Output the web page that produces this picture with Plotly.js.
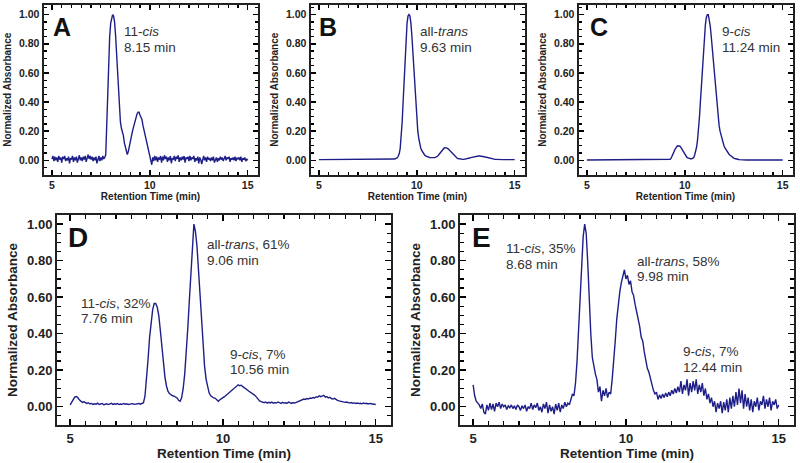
<!DOCTYPE html>
<html>
<head>
<meta charset="utf-8">
<script src="https://cdn.plot.ly/plotly-3.0.1.min.js"></script>
</head>
<body style="margin:0">
<div id="chart"></div>
<script>
// Retention time grid (min), shared by all chromatograms
const time = [
5.00,5.05,5.10,5.15,5.20,5.25,5.30,5.35,5.40,5.45,
5.50,5.55,5.60,5.65,5.70,5.75,5.80,5.85,5.90,5.95,
6.00,6.05,6.10,6.15,6.20,6.25,6.30,6.35,6.40,6.45,
6.50,6.55,6.60,6.65,6.70,6.75,6.80,6.85,6.90,6.95,
7.00,7.05,7.10,7.15,7.20,7.25,7.30,7.35,7.40,7.45,
7.50,7.55,7.60,7.65,7.70,7.75,7.80,7.85,7.90,7.95,
8.00,8.05,8.10,8.15,8.20,8.25,8.30,8.35,8.40,8.45,
8.50,8.55,8.60,8.65,8.70,8.75,8.80,8.85,8.90,8.95,
9.00,9.05,9.10,9.15,9.20,9.25,9.30,9.35,9.40,9.45,
9.50,9.55,9.60,9.65,9.70,9.75,9.80,9.85,9.90,9.95,
10.00,10.05,10.10,10.15,10.20,10.25,10.30,10.35,10.40,10.45,
10.50,10.55,10.60,10.65,10.70,10.75,10.80,10.85,10.90,10.95,
11.00,11.05,11.10,11.15,11.20,11.25,11.30,11.35,11.40,11.45,
11.50,11.55,11.60,11.65,11.70,11.75,11.80,11.85,11.90,11.95,
12.00,12.05,12.10,12.15,12.20,12.25,12.30,12.35,12.40,12.45,
12.50,12.55,12.60,12.65,12.70,12.75,12.80,12.85,12.90,12.95,
13.00,13.05,13.10,13.15,13.20,13.25,13.30,13.35,13.40,13.45,
13.50,13.55,13.60,13.65,13.70,13.75,13.80,13.85,13.90,13.95,
14.00,14.05,14.10,14.15,14.20,14.25,14.30,14.35,14.40,14.45,
14.50,14.55,14.60,14.65,14.70,14.75,14.80,14.85,14.90,14.95,
15.00];

// Panel A: 11-cis standard
const absA = [
0.010,0.030,-0.005,0.025,0.000,0.020,-0.010,0.030,0.005,0.020,
-0.015,0.025,0.010,0.030,-0.005,0.015,0.000,0.025,-0.020,0.015,
0.005,0.030,-0.010,0.020,0.000,0.025,-0.015,0.020,0.035,0.000,
0.020,-0.005,0.025,0.005,0.030,-0.010,0.015,0.040,0.010,0.030,
0.005,0.025,-0.005,0.020,0.000,0.025,-0.020,0.015,0.030,-0.005,
0.020,0.000,0.030,0.010,0.020,0.040,0.250,0.500,0.700,0.850,
0.940,0.980,1.000,0.990,0.950,0.860,0.720,0.580,0.450,0.340,
0.260,0.220,0.200,0.170,0.120,0.090,0.060,0.040,0.060,0.100,
0.130,0.160,0.190,0.220,0.250,0.280,0.300,0.320,0.330,0.330,
0.310,0.290,0.280,0.240,0.210,0.180,0.140,0.110,0.080,0.050,
0.030,0.010,-0.030,0.020,-0.005,0.030,0.000,0.025,-0.010,0.020,
0.005,0.030,-0.015,0.025,0.000,0.035,0.010,0.025,-0.010,0.020,
0.000,0.030,-0.020,0.015,0.005,0.030,-0.005,0.025,0.010,0.035,
-0.010,0.020,0.000,0.025,0.005,0.030,-0.015,0.020,0.010,0.025,
-0.005,0.030,0.000,0.020,0.010,0.030,-0.010,0.015,0.000,0.025,
-0.020,0.020,0.005,-0.025,0.015,0.030,0.000,0.020,-0.010,0.025,
0.005,0.015,-0.005,0.020,0.000,0.025,-0.015,0.010,0.020,-0.010,
0.015,0.000,0.025,0.005,0.020,-0.005,0.015,0.030,0.000,0.020,
0.010,0.025,-0.010,0.015,0.005,0.020,0.000,0.025,-0.005,0.015,
0.010,0.020,0.000,0.025,-0.010,0.015,0.005,0.020,-0.005,0.010,
0.000];

// Panel B: all-trans standard
const absB = [
0.005,0.005,0.005,0.005,0.005,0.005,0.005,0.005,0.005,0.005,
0.005,0.005,0.005,0.004,0.004,0.004,0.004,0.004,0.004,0.004,
0.004,0.004,0.004,0.004,0.004,0.004,0.004,0.004,0.004,0.004,
0.004,0.004,0.004,0.004,0.004,0.004,0.004,0.004,0.004,0.004,
0.004,0.004,0.004,0.004,0.004,0.004,0.004,0.004,0.004,0.004,
0.004,0.004,0.004,0.004,0.004,0.004,0.004,0.004,0.004,0.004,
0.004,0.004,0.004,0.004,0.004,0.004,0.005,0.005,0.005,0.005,
0.005,0.005,0.005,0.006,0.006,0.007,0.008,0.009,0.011,0.014,
0.018,0.028,0.045,0.080,0.150,0.260,0.400,0.560,0.720,0.850,
0.940,0.990,1.000,0.990,0.940,0.850,0.730,0.600,0.470,0.360,
0.270,0.200,0.150,0.110,0.085,0.068,0.055,0.045,0.037,0.031,
0.027,0.024,0.022,0.020,0.019,0.018,0.018,0.018,0.019,0.020,
0.023,0.028,0.035,0.044,0.054,0.064,0.073,0.080,0.085,0.087,
0.087,0.084,0.079,0.072,0.064,0.055,0.046,0.038,0.031,0.025,
0.020,0.016,0.013,0.011,0.009,0.008,0.007,0.007,0.007,0.008,
0.009,0.010,0.012,0.014,0.016,0.019,0.021,0.023,0.025,0.027,
0.028,0.029,0.030,0.030,0.030,0.030,0.029,0.028,0.027,0.025,
0.023,0.021,0.019,0.017,0.015,0.013,0.011,0.010,0.009,0.008,
0.007,0.007,0.006,0.006,0.006,0.006,0.005,0.005,0.005,0.005,
0.005,0.005,0.005,0.005,0.005,0.005,0.005,0.005,0.005,0.005,
0.005];

// Panel C: 9-cis standard
const absC = [
0.003,0.003,0.003,0.003,0.003,0.003,0.003,0.003,0.003,0.003,
0.003,0.003,0.003,0.003,0.003,0.003,0.003,0.003,0.003,0.003,
0.003,0.003,0.003,0.003,0.003,0.003,0.003,0.003,0.003,0.003,
0.003,0.003,0.003,0.003,0.003,0.003,0.003,0.003,0.003,0.003,
0.003,0.003,0.003,0.003,0.003,0.003,0.003,0.003,0.003,0.003,
0.004,0.005,0.006,0.007,0.008,0.008,0.007,0.006,0.005,0.004,
0.004,0.003,0.003,0.003,0.003,0.003,0.003,0.003,0.003,0.003,
0.003,0.003,0.003,0.003,0.003,0.003,0.003,0.003,0.003,0.003,
0.003,0.003,0.003,0.004,0.005,0.008,0.015,0.027,0.042,0.060,
0.076,0.088,0.096,0.100,0.101,0.097,0.089,0.077,0.063,0.049,
0.038,0.029,0.022,0.017,0.014,0.012,0.011,0.011,0.013,0.018,
0.035,0.058,0.090,0.140,0.210,0.300,0.410,0.530,0.650,0.760,
0.860,0.930,0.980,1.000,1.000,0.970,0.920,0.850,0.770,0.690,
0.600,0.510,0.430,0.350,0.290,0.240,0.200,0.170,0.145,0.120,
0.100,0.085,0.072,0.061,0.052,0.044,0.037,0.030,0.025,0.020,
0.016,0.013,0.010,0.008,0.007,0.006,0.005,0.004,0.004,0.004,
0.003,0.003,0.003,0.003,0.003,0.003,0.003,0.003,0.003,0.003,
0.003,0.003,0.003,0.003,0.003,0.003,0.003,0.003,0.003,0.003,
0.003,0.003,0.003,0.003,0.003,0.003,0.003,0.003,0.003,0.003,
0.003,0.003,0.003,0.003,0.003,0.003,0.003,0.003,0.003,0.003,
0.003];

// Panel D: isomer mixture
const absD = [
0.010,0.025,0.042,0.053,0.056,0.050,0.038,0.030,0.024,0.027,
0.020,0.018,0.022,0.015,0.018,0.013,0.016,0.014,0.020,0.012,
0.015,0.018,0.011,0.014,0.016,0.012,0.015,0.019,0.013,0.016,
0.014,0.017,0.012,0.015,0.013,0.018,0.014,0.016,0.012,0.015,
0.014,0.017,0.013,0.016,0.015,0.018,0.014,0.017,0.022,0.060,
0.150,0.260,0.380,0.470,0.530,0.565,0.565,0.545,0.500,0.420,
0.330,0.240,0.165,0.115,0.085,0.072,0.065,0.060,0.058,0.052,
0.048,0.035,0.030,0.050,0.100,0.180,0.290,0.430,0.580,0.740,
0.880,1.000,0.960,0.880,0.750,0.600,0.450,0.320,0.220,0.150,
0.105,0.075,0.060,0.052,0.048,0.046,0.040,0.030,0.038,0.042,
0.050,0.055,0.062,0.070,0.075,0.082,0.088,0.095,0.105,0.110,
0.120,0.115,0.118,0.110,0.105,0.098,0.092,0.085,0.078,0.070,
0.068,0.062,0.050,0.040,0.032,0.028,0.025,0.022,0.026,0.020,
0.024,0.021,0.025,0.019,0.023,0.020,0.026,0.021,0.018,0.024,
0.020,0.022,0.019,0.025,0.021,0.018,0.023,0.020,0.024,0.027,
0.030,0.035,0.038,0.042,0.040,0.045,0.042,0.048,0.046,0.050,
0.048,0.055,0.052,0.060,0.055,0.058,0.062,0.052,0.056,0.048,
0.052,0.045,0.042,0.046,0.038,0.035,0.032,0.030,0.026,0.028,
0.024,0.026,0.022,0.020,0.023,0.019,0.021,0.018,0.020,0.017,
0.019,0.016,0.020,0.017,0.019,0.015,0.018,0.016,0.014,0.016,
0.012];

// Panel E: isomer mixture
const absE = [
0.120,0.060,0.030,0.020,0.010,-0.010,0.015,-0.030,-0.040,0.010,
-0.020,0.020,-0.015,0.015,-0.025,0.020,0.000,0.025,-0.010,0.015,
0.000,0.010,-0.015,0.005,-0.005,0.010,-0.010,0.005,-0.015,0.010,
0.000,-0.020,0.005,-0.010,0.010,-0.025,0.000,-0.010,0.020,-0.015,
0.010,-0.005,0.020,-0.020,0.000,-0.030,0.015,-0.010,0.025,-0.035,
0.010,-0.025,0.000,-0.040,0.015,-0.020,0.020,-0.030,0.010,-0.010,
0.025,0.000,0.020,0.010,0.040,0.070,0.060,0.130,0.250,0.420,
0.610,0.790,0.930,1.000,0.950,0.790,0.580,0.400,0.270,0.220,
0.180,0.150,0.080,0.110,0.030,0.090,0.060,0.100,0.050,0.080,
0.070,0.150,0.240,0.360,0.480,0.560,0.630,0.680,0.720,0.750,
0.700,0.720,0.670,0.690,0.630,0.610,0.560,0.520,0.470,0.440,
0.380,0.360,0.300,0.260,0.210,0.190,0.150,0.120,0.090,0.070,
0.080,0.040,0.065,0.045,0.070,0.050,0.075,0.055,0.080,0.060,
0.090,0.070,0.100,0.075,0.110,0.080,0.140,0.070,0.120,0.090,
0.150,0.060,0.130,0.080,0.140,0.090,0.150,0.070,0.120,0.080,
0.130,0.060,0.100,0.040,0.070,0.020,0.050,0.000,0.030,-0.030,
0.020,-0.010,0.030,-0.035,0.025,-0.020,0.040,-0.030,0.050,-0.010,
0.060,0.000,0.080,0.010,0.100,0.020,0.090,-0.010,0.070,0.000,
0.050,-0.020,0.040,-0.030,0.030,0.000,0.050,-0.020,0.030,0.010,
0.060,-0.010,0.040,0.000,0.050,-0.020,0.030,0.010,0.040,-0.010,
0.010];

const panelLetters = ['A','B','C','D','E'];
const peakLabels = [
  [['11-<i>cis</i>', '8.15 min']],
  [['all-<i>trans</i>', '9.63 min']],
  [['9-<i>cis</i>', '11.24 min']],
  [['11-<i>cis</i>, 32%', '7.76 min'], ['all-<i>trans</i>, 61%', '9.06 min'], ['9-<i>cis</i>, 7%', '10.56 min']],
  [['11-<i>cis</i>, 35%', '8.68 min'], ['all-<i>trans</i>, 58%', '9.98 min'], ['9-<i>cis</i>, 7%', '12.44 min']]
];
const xTitle = 'Retention Time (min)';
const yTitle = 'Normalized Absorbance';

// ---- styling / layout (positions not data) ----
const FONT = 'Liberation Sans';
const lineColor = '#1e1e88';
const series = [absA, absB, absC, absD, absE];
const traces = series.map((s, i) => ({
  x: time, y: s, mode: 'lines',
  xaxis: i === 0 ? 'x' : 'x' + (i + 1),
  yaxis: i === 0 ? 'y' : 'y' + (i + 1),
  line: {color: lineColor, width: 1.4}
}));

const W = 800, H = 463;
const boxes = [
  {l: 43.5, r: 257.5, t: 5, b: 174.5, small: true},
  {l: 310.5, r: 524.5, t: 5, b: 174.5, small: true},
  {l: 578.5, r: 792.5, t: 5, b: 174.5, small: true},
  {l: 57, r: 391, t: 215, b: 425, small: false},
  {l: 460, r: 794, t: 215, b: 425, small: false}
];

function ax(dom, anc, isX, small) {
  const o = {
    domain: dom, anchor: anc, layer: 'above traces',
    ticks: 'inside', ticklen: small ? 5 : 6, tickwidth: 1.5, tickcolor: '#000000',
    showline: true, linecolor: '#222222', linewidth: 2, mirror: 'allticks',
    showgrid: false, zeroline: false,
    minor: {dtick: isX ? 0.5 : 0.05, ticks: 'inside', ticklen: small ? 3 : 4, tickwidth: 1.2, tickcolor: '#000000', showgrid: false},
    tickfont: {family: FONT, size: small ? 10.5 : 13, color: '#222222', weight: 'bold'}
  };
  const tf = {family: FONT, size: small ? 10 : 13.5, color: '#222222', weight: 'bold'};
  if (isX) {
    o.range = [4.57, 15.5]; o.tick0 = 5; o.dtick = 5;
    o.title = {text: xTitle, font: tf, standoff: small ? 1 : 0};
  } else {
    o.range = small ? [-0.097, 1.066] : [-0.1, 1.05]; o.dtick = 0.2; o.tickformat = '.2f';
    o.title = {text: yTitle, font: tf, standoff: small ? 5 : 6};
  }
  return o;
}

const layout = {
  width: W, height: H,
  margin: {l: 0, r: 0, t: 0, b: 0, pad: 0},
  paper_bgcolor: '#ffffff', plot_bgcolor: 'rgba(0,0,0,0)',
  showlegend: false,
  annotations: []
};
boxes.forEach((bx, i) => {
  const sfx = i === 0 ? '' : String(i + 1);
  layout['xaxis' + sfx] = ax([bx.l / W, bx.r / W], 'y' + sfx, true, bx.small);
  layout['yaxis' + sfx] = ax([1 - bx.b / H, 1 - bx.t / H], 'x' + sfx, false, bx.small);
});

// Panel letters (data coords)
const letterPos = [[5.53, 0.915], [5.46, 0.915], [5.61, 0.915], [5.26, 0.925], [5.29, 0.925]];
panelLetters.forEach((L, i) => {
  const sfx = i === 0 ? '' : String(i + 1);
  layout.annotations.push({
    xref: 'x' + sfx, yref: 'y' + sfx, x: letterPos[i][0], y: letterPos[i][1],
    text: L, showarrow: false, xanchor: 'center', yanchor: 'middle',
    font: {family: FONT, size: i < 3 ? 25 : 28, color: '#111111', weight: 'bold'}
  });
});

// Peak annotations: block centre in data coords, each line shifted by half the line spacing
const labelPos = [
  [[8.59, 0.829]],
  [[10.05, 0.829]],
  [[11.79, 0.829]],
  [[5.29, 0.525], [9.41, 0.845], [10.16, 0.245]],
  [[6.01, 0.823], [10.31, 0.755], [11.81, 0.259]]
];
const lineGap = 15.5;
peakLabels.forEach((arr, i) => {
  const sfx = i === 0 ? '' : String(i + 1);
  arr.forEach((lines, j) => {
    lines.forEach((txt, k) => {
      layout.annotations.push({
        xref: 'x' + sfx, yref: 'y' + sfx, x: labelPos[i][j][0], y: labelPos[i][j][1],
        yshift: (k === 0 ? 1 : -1) * lineGap / 2,
        text: txt, showarrow: false, xanchor: 'left', yanchor: 'middle', align: 'left',
        font: {family: FONT, size: 13.5, color: '#333333'}
      });
    });
  });
});

Plotly.newPlot('chart', traces, layout, {staticPlot: true});
</script>
</body>
</html>
